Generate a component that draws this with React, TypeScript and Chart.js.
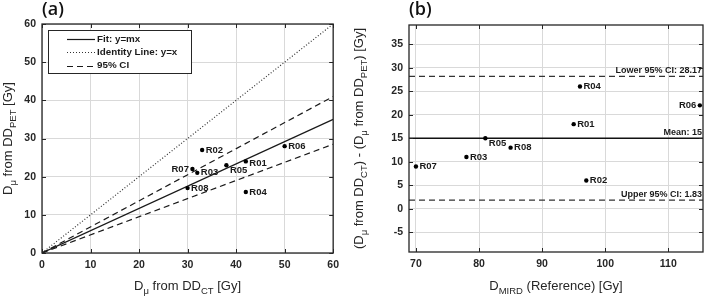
import React, { useEffect, useRef } from "react";
import { Chart, registerables } from "chart.js";
Chart.register(...registerables);

// ---------- data ----------
const regionLabels = ["R01", "R02", "R03", "R04", "R05", "R06", "R07", "R08"];
const dCT = [42, 33, 32, 42, 38, 50, 31, 30];
const dPET = [24, 27, 21, 16, 23, 28, 22, 17];
const lineX = [0, 60];
const fitY = [0, 35];
const identityY = [0, 60];
const ciUpperY = [0, 41];
const ciLowerY = [0, 28.5];
const aTicks = [0, 10, 20, 30, 40, 50, 60];

const dMIRD = [95, 97, 78, 96, 81, 115, 70, 85];
const dDiff = [18, 6, 11, 26, 15, 22, 9, 13];
const meanDiff = 15;
const lowerCI = 28.17;
const upperCI = 1.83;
const bXTicks = [70, 80, 90, 100, 110];
const bYTicks = [-5, 0, 5, 10, 15, 20, 25, 30, 35];
const bXRange = [68.9, 115.5];
const bYRange = [-9.2, 39.1];

// ---------- styles ----------
const FONT = "'Liberation Sans', Arial, sans-serif";
const INK = "#262626";
const GRID = "#d9d9d9";
const labelStyleA: Record<string, { side?: string; dy?: number }> = {
  R07: { side: "left" },
  R05: { dy: 5 },
  R01: { dy: 2 },
};
const labelStyleB: Record<string, { side?: string; dy?: number }> = {
  R06: { side: "left" },
  R05: { dy: 5 },
};

type Seg = { t: string; sub?: boolean };
const xTitleA: Seg[] = [{ t: "D" }, { t: "μ", sub: true }, { t: " from DD" }, { t: "CT", sub: true }, { t: " [Gy]" }];
const yTitleA: Seg[] = [{ t: "D" }, { t: "μ", sub: true }, { t: " from DD" }, { t: "PET", sub: true }, { t: " [Gy]" }];
const xTitleB: Seg[] = [{ t: "D" }, { t: "MIRD", sub: true }, { t: " (Reference) [Gy]" }];
const yTitleB: Seg[] = [
  { t: "(D" }, { t: "μ", sub: true }, { t: " from DD" }, { t: "CT", sub: true },
  { t: ") - (D" }, { t: "μ", sub: true }, { t: " from DD" }, { t: "PET", sub: true }, { t: ") [Gy]" },
];

function drawRich(ctx: CanvasRenderingContext2D, segs: Seg[], cx: number, cy: number, rot: number) {
  const main = `13px ${FONT}`;
  const sub = `9.5px ${FONT}`;
  ctx.save();
  ctx.translate(cx, cy);
  ctx.rotate(rot);
  ctx.fillStyle = INK;
  ctx.textBaseline = "alphabetic";
  ctx.textAlign = "left";
  let total = 0;
  const widths = segs.map((s) => {
    ctx.font = s.sub ? sub : main;
    const w = ctx.measureText(s.t).width;
    total += w;
    return w;
  });
  let x = -total / 2;
  segs.forEach((s, i) => {
    ctx.font = s.sub ? sub : main;
    ctx.fillText(s.t, x, s.sub ? 4 : 0);
    x += widths[i];
  });
  ctx.restore();
}

function frame(chart: any, xTicks: number[], yTicks: number[]) {
  const { ctx, chartArea, scales } = chart;
  const { left, right, top, bottom } = chartArea;
  ctx.save();
  ctx.strokeStyle = INK;
  ctx.lineWidth = 1;
  ctx.beginPath();
  xTicks.forEach((v) => {
    const px = Math.round(scales.x.getPixelForValue(v)) + 0.5;
    ctx.moveTo(px, bottom); ctx.lineTo(px, bottom - 4);
    ctx.moveTo(px, top); ctx.lineTo(px, top + 4);
  });
  yTicks.forEach((v) => {
    const py = Math.round(scales.y.getPixelForValue(v)) + 0.5;
    ctx.moveTo(left, py); ctx.lineTo(left + 4, py);
    ctx.moveTo(right, py); ctx.lineTo(right - 4, py);
  });
  ctx.stroke();
  ctx.lineWidth = 1.3;
  ctx.strokeRect(left, top, right - left, bottom - top);
  ctx.restore();
}

function pointLabels(chart: any, styles: Record<string, { side?: string; dy?: number }>) {
  const { ctx } = chart;
  const meta = chart.getDatasetMeta(0);
  ctx.save();
  ctx.font = `bold 9.5px ${FONT}`;
  ctx.fillStyle = "#1a1a1a";
  ctx.textBaseline = "middle";
  meta.data.forEach((el: any, i: number) => {
    const name = regionLabels[i];
    const st = styles[name] || {};
    const left = st.side === "left";
    ctx.textAlign = left ? "right" : "left";
    ctx.fillText(name, el.x + (left ? -3.5 : 3.5), el.y + (st.dy || 0));
  });
  ctx.restore();
}

function panelTitle(chart: any, text: string) {
  const { ctx, chartArea } = chart;
  ctx.save();
  ctx.font = `600 18px 'Open Sans', ${FONT}`;
  ctx.fillStyle = "#111";
  ctx.textAlign = "left";
  ctx.textBaseline = "alphabetic";
  ctx.fillText(text, chartArea.left, 14.5);
  ctx.restore();
}

const scaleBase = (ticks: number[], min: number, max: number, size: number, axis: "x" | "y") => ({
  type: "linear" as const,
  min,
  max,
  afterBuildTicks: (s: any) => {
    s.ticks = ticks.map((v) => ({ value: v }));
  },
  afterFit: (s: any) => {
    if (axis === "x") s.height = size;
    else s.width = size;
  },
  grid: { color: GRID, lineWidth: 1, drawTicks: false },
  border: { display: false },
  ticks: { padding: 6, color: INK, font: { family: FONT, size: 10.5, weight: "bold" as const } },
});

export default function App() {
  const refA = useRef<HTMLCanvasElement>(null);
  const refB = useRef<HTMLCanvasElement>(null);

  useEffect(() => {
    const pluginA = {
      id: "panelA",
      afterDraw(chart: any) {
        const { ctx, chartArea } = chart;
        frame(chart, aTicks, aTicks);
        pointLabels(chart, labelStyleA);
        // legend
        const ds = chart.data.datasets.slice(1);
        ctx.save();
        ctx.fillStyle = "#fff";
        ctx.fillRect(48, 30, 143, 43);
        ctx.strokeStyle = INK;
        ctx.lineWidth = 1;
        ctx.strokeRect(48.5, 30.5, 143, 43);
        const rows = [ds[0], ds[1], ds[2]];
        rows.forEach((d: any, i: number) => {
          const y = 39 + i * 13.3;
          ctx.strokeStyle = d.borderColor;
          ctx.lineWidth = d.borderWidth;
          ctx.setLineDash(d.borderDash || []);
          ctx.beginPath();
          ctx.moveTo(67, Math.round(y) + 0.5);
          ctx.lineTo(95, Math.round(y) + 0.5);
          ctx.stroke();
          ctx.setLineDash([]);
          ctx.fillStyle = "#1a1a1a";
          ctx.font = `bold 9.8px ${FONT}`;
          ctx.textAlign = "left";
          ctx.textBaseline = "middle";
          ctx.fillText(d.label, 97, y);
        });
        ctx.restore();
        panelTitle(chart, "(a)");
        const cx = (chartArea.left + chartArea.right) / 2;
        drawRich(ctx, xTitleA, cx, 289.5, 0);
        drawRich(ctx, yTitleA, 12, (chartArea.top + chartArea.bottom) / 2, -Math.PI / 2);
      },
    };

    const toPts = (xs: number[], ys: number[]) => xs.map((x, i) => ({ x, y: ys[i] }));

    const chartA = new Chart(refA.current!, {
      type: "scatter",
      data: {
        datasets: [
          {
            label: "Regions",
            data: toPts(dCT, dPET),
            pointRadius: 2.2,
            pointBackgroundColor: "#000",
            pointBorderWidth: 0,
          },
          {
            label: "Fit: y=mx",
            data: toPts(lineX, fitY),
            showLine: true,
            pointRadius: 0,
            borderColor: "#1a1a1a",
            borderWidth: 1.2,
          },
          {
            label: "Identity Line: y=x",
            data: toPts(lineX, identityY),
            showLine: true,
            pointRadius: 0,
            borderColor: "#333",
            borderWidth: 1.2,
            borderDash: [1, 2],
          },
          {
            label: "95% CI",
            data: toPts(lineX, ciUpperY),
            showLine: true,
            pointRadius: 0,
            borderColor: "#1a1a1a",
            borderWidth: 1.2,
            borderDash: [6, 4],
          },
          {
            label: "95% CI lower",
            data: toPts(lineX, ciLowerY),
            showLine: true,
            pointRadius: 0,
            borderColor: "#1a1a1a",
            borderWidth: 1.2,
            borderDash: [6, 4],
          },
        ],
      },
      options: {
        animation: false,
        responsive: false,
        layout: { padding: { top: 24, right: 4, left: 0, bottom: 0 } },
        plugins: { legend: { display: false }, tooltip: { enabled: false } },
        scales: {
          x: scaleBase(aTicks, 0, 60, 44, "x"),
          y: scaleBase(aTicks, 0, 60, 42, "y"),
        } as any,
      },
      plugins: [pluginA],
    });

    const pluginB = {
      id: "panelB",
      afterDraw(chart: any) {
        const { ctx, chartArea, scales } = chart;
        frame(chart, bXTicks, bYTicks);
        pointLabels(chart, labelStyleB);
        ctx.save();
        ctx.font = `bold 9px ${FONT}`;
        ctx.fillStyle = "#1a1a1a";
        ctx.textAlign = "right";
        ctx.textBaseline = "bottom";
        const rx = chartArea.right - 1;
        ctx.fillText(`Lower 95% CI: ${lowerCI.toFixed(2)}`, rx, scales.y.getPixelForValue(lowerCI) - 1.5);
        ctx.fillText(`Mean: ${meanDiff}`, rx, scales.y.getPixelForValue(meanDiff) - 1.5);
        ctx.fillText(`Upper 95% CI: ${upperCI.toFixed(2)}`, rx, scales.y.getPixelForValue(upperCI) - 1.5);
        ctx.restore();
        panelTitle(chart, "(b)");
        const cx = (chartArea.left + chartArea.right) / 2;
        drawRich(ctx, xTitleB, cx, 289.5, 0);
        drawRich(ctx, yTitleB, 18, (chartArea.top + chartArea.bottom) / 2, -Math.PI / 2);
      },
    };

    const hLine = (v: number) => [
      { x: bXRange[0], y: v },
      { x: bXRange[1], y: v },
    ];

    const chartB = new Chart(refB.current!, {
      type: "scatter",
      data: {
        datasets: [
          {
            label: "Regions",
            data: toPts(dMIRD, dDiff),
            pointRadius: 2.2,
            pointBackgroundColor: "#000",
            pointBorderWidth: 0,
          },
          {
            label: "Mean",
            data: hLine(meanDiff),
            showLine: true,
            pointRadius: 0,
            borderColor: "#111",
            borderWidth: 1.5,
          },
          {
            label: "Lower 95% CI",
            data: hLine(lowerCI),
            showLine: true,
            pointRadius: 0,
            borderColor: "#333",
            borderWidth: 1.3,
            borderDash: [6, 4],
          },
          {
            label: "Upper 95% CI",
            data: hLine(upperCI),
            showLine: true,
            pointRadius: 0,
            borderColor: "#333",
            borderWidth: 1.3,
            borderDash: [6, 4],
          },
        ],
      },
      options: {
        animation: false,
        responsive: false,
        layout: { padding: { top: 25, right: 3, left: 0, bottom: 0 } },
        plugins: { legend: { display: false }, tooltip: { enabled: false } },
        scales: {
          x: scaleBase(bXTicks, bXRange[0], bXRange[1], 45, "x"),
          y: scaleBase(bYTicks, bYRange[0], bYRange[1], 64, "y"),
        } as any,
      },
      plugins: [pluginB],
    });

    return () => {
      chartA.destroy();
      chartB.destroy();
    };
  }, []);

  return (
    <div style={{ position: "absolute", left: 0, top: 0, width: 707, height: 297, background: "#fff" }}>
      <canvas ref={refA} width={345} height={297} style={{ position: "absolute", left: 0, top: 0 }} />
      <canvas ref={refB} width={362} height={297} style={{ position: "absolute", left: 345, top: 0 }} />
    </div>
  );
}
